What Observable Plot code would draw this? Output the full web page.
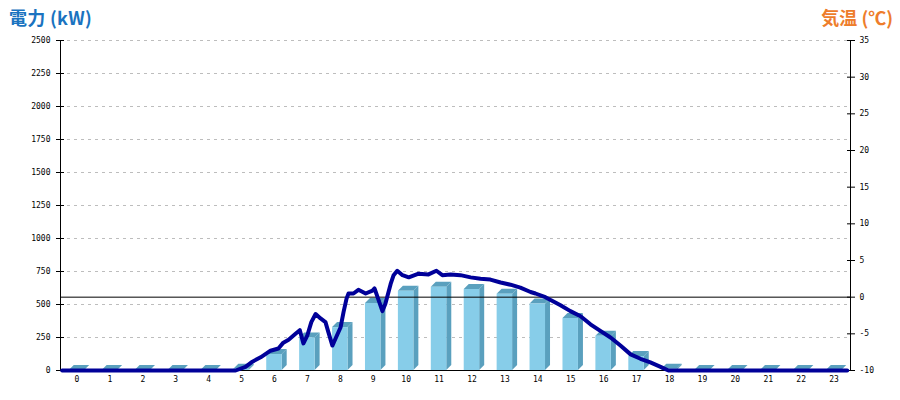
<!DOCTYPE html>
<html><head><meta charset="utf-8">
<script src="https://cdn.jsdelivr.net/npm/d3@7"></script>
<script src="https://cdn.jsdelivr.net/npm/@observablehq/plot@0.6"></script>
<style>
body{margin:0;background:#fff;}
#wrap{position:relative;width:900px;height:400px;}
.t{position:absolute;top:6px;font-family:"Noto Sans CJK JP";font-weight:bold;font-size:18px;line-height:22px;z-index:2;}
</style></head><body>
<div id="wrap">
<div class="t" style="left:9px;color:#1a73c0;letter-spacing:0.3px">電力 (kW)</div>
<div class="t" style="right:7px;color:#ee7d2b">気温 (℃)</div>
</div>
<script>
const hours = [0,1,2,3,4,5,6,7,8,9,10,11,12,13,14,15,16,17,18,19,20,21,22,23];
const powerKW = [0,0,0,0,0,10,121,247,325,507,601,631,613,578,503,394,260,106,10,0,0,0,0,0];
const tempTime = [0.05,5.32,5.62,5.83,6.08,6.38,6.62,6.77,6.93,7.14,7.27,7.38,7.50,7.62,7.75,7.90,8.05,8.14,8.26,8.35,8.51,8.60,8.69,8.75,8.90,9.05,9.27,9.48,9.54,9.78,9.87,10.03,10.12,10.23,10.39,10.58,10.88,11.18,11.42,11.60,11.85,12.15,12.46,12.76,13.06,13.37,13.67,13.97,14.28,14.43,14.73,14.89,15.19,15.49,15.80,16.10,16.40,16.71,17.01,17.32,17.62,17.92,18.23,18.47,23.9];
const tempC = [-10,-10,-9.5,-8.8,-8.2,-7.3,-7.0,-6.2,-5.8,-5.0,-4.5,-6.3,-5.2,-3.4,-2.3,-2.9,-3.4,-4.8,-6.6,-5.7,-4.1,-2.0,-0.2,0.5,0.5,1.0,0.5,0.9,1.2,-1.9,-0.9,1.8,3.0,3.6,3.0,2.7,3.2,3.1,3.6,3.0,3.1,3.0,2.7,2.5,2.4,2.0,1.7,1.3,0.7,0.5,0.0,-0.4,-1.1,-1.9,-2.6,-3.7,-4.6,-5.5,-6.6,-7.8,-8.4,-8.9,-9.5,-10,-10];
const powerTicks = [0,250,500,750,1000,1250,1500,1750,2000,2250,2500];
const tempTicks = [-10,-5,0,5,10,15,20,25,30,35];

const kwMax = 2500, tMin = -10, tMax = 35;
const toKW = c => (c - tMin) * kwMax / (tMax - tMin);
const toC = k => Math.round(k * (tMax - tMin) / kwMax + tMin);

const bars = hours.map((h, i) => ({hour: h, kw: powerKW[i]}));
const temps = tempTime.map((t, i) => ({t, c: tempC[i]}));

const FRONT = "#87cde9", SIDE = "#5aa0be", DX = 5, DY = 5;
function bars3d(index, scales, values, dimensions, context) {
  const ns = "http://www.w3.org/2000/svg";
  const doc = context.document;
  const g = doc.createElementNS(ns, "g");
  const add = (pts, fill) => {
    const p = doc.createElementNS(ns, "polygon");
    p.setAttribute("points", pts.map(q => q.join(",")).join(" "));
    p.setAttribute("fill", fill);
    g.appendChild(p);
  };
  for (const i of index) {
    const d = bars[i];
    const xa = scales.x(d.hour), xb = scales.x(d.hour + 1);
    const w = (xb - xa) * 0.47;
    const l = (xa + xb) / 2 - w / 2, r = l + w;
    const yt = scales.y(d.kw), yb = scales.y(0);
    add([[r, yb], [r, yt], [r + DX, yt - DY], [r + DX, yb - DY]], SIDE);
    add([[l, yt], [r, yt], [r + DX, yt - DY], [l + DX, yt - DY]], SIDE);
    add([[l, yt], [r, yt], [r, yb], [l, yb]], FRONT);
  }
  return g;
}

const chart = Plot.plot({
  width: 900, height: 400,
  marginTop: 40, marginBottom: 30, marginLeft: 60, marginRight: 50,
  x: {domain: [0, 24]},
  y: {domain: [0, 2500]},
  style: {fontFamily: "DejaVu Sans Mono", fontSize: "8px", background: "#fff", color: "#000"},
  marks: [
    Plot.gridY(powerTicks.slice(1), {stroke: "#bdbdbd", strokeOpacity: 1, strokeDasharray: "3,4"}),
    Plot.rectY(bars, {x1: "hour", x2: d => d.hour + 1, y: "kw", render: bars3d}),
    Plot.ruleY([toKW(0)], {stroke: "#000", strokeWidth: 1}),
    Plot.ruleY([0], {stroke: "#000"}),
    Plot.ruleX([0], {stroke: "#000"}),
    Plot.ruleX([24], {stroke: "#000"}),
    Plot.axisY({anchor: "left", ticks: powerTicks, tickSize: 8, dx: 4, tickPadding: 6, label: null, tickFormat: d => String(d)}),
    Plot.axisY({anchor: "right", ticks: tempTicks.map(toKW), tickSize: 8, dx: -4, tickPadding: 5, label: null, tickFormat: k => String(toC(k))}),
    Plot.axisX({ticks: hours.map(h => h + 0.5), tickSize: 0, tickPadding: 6, label: null, tickFormat: d => String(Math.floor(d))}),
    Plot.line(temps, {x: "t", y: d => toKW(d.c), stroke: "#000099", strokeWidth: 4, strokeLinejoin: "round"})
  ]
});
document.getElementById("wrap").appendChild(chart);
</script>
</body></html>
